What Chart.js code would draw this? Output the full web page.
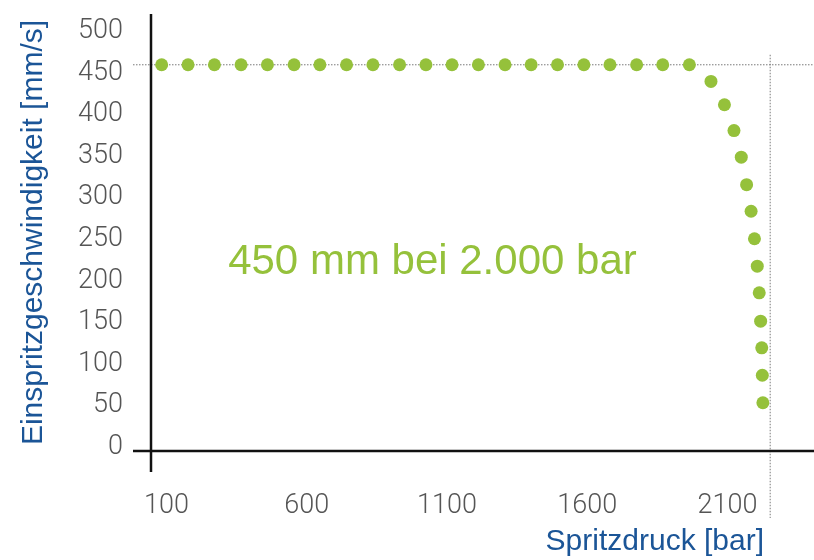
<!DOCTYPE html>
<html>
<head>
<meta charset="utf-8">
<script src="https://cdn.jsdelivr.net/npm/chart.js@4"></script>
<style>
  html, body { margin: 0; padding: 0; background: #fff; }
  #wrap { width: 814px; height: 560px; }
</style>
</head>
<body>
<div id="wrap"><canvas id="chart"></canvas></div>
<script>
// Spritzdruck [bar] / Einspritzgeschwindigkeit [mm/s]
const PRESSURE = [83, 177, 271, 366, 460, 555, 647, 742, 836, 931, 1025, 1118, 1212, 1307,
                  1400, 1494, 1588, 1681, 1776, 1869, 1964,
                  2041, 2089, 2123, 2149, 2168, 2184, 2196, 2206, 2213, 2218, 2222, 2224, 2226];
const SPEED = [450, 450, 450, 450, 450, 450, 450, 450, 450, 450, 450, 450, 450, 450,
               450, 450, 450, 450, 450, 450, 450,
               430, 402, 371, 339, 306, 274, 241, 208, 176, 142, 110, 77, 44];

const X_TICKS = [100, 600, 1100, 1600, 2100];
const Y_TICKS = [0, 50, 100, 150, 200, 250, 300, 350, 400, 450, 500];

// dotted guide lines and the note
const REF_PRESSURE = 2252;
const REF_SPEED = 450;
const NOTE = "450 mm bei 2.000 bar";
const NOTE_AT = { x: 320, y: 213 };

const GREEN = "#95c13b";
const BLUE = "#1b5597";
const GREY = "#555";
const FONT = "'Liberation Sans', Arial, sans-serif";
const TICK_FONT = "Roboto, 'Liberation Sans', sans-serif";

const guides = {
    id: "guides",
    beforeDatasetsDraw(chart) {
        const { ctx, chartArea: a, scales: { x, y } } = chart;
        const yRef = y.getPixelForValue(REF_SPEED);
        const xRef = x.getPixelForValue(REF_PRESSURE);
        ctx.save();
        ctx.strokeStyle = "#7a7a7a";
        ctx.lineWidth = 1;
        ctx.setLineDash([1.5, 1.5]);
        ctx.beginPath();
        ctx.moveTo(a.left - 18, yRef);
        ctx.lineTo(chart.width, yRef);
        ctx.moveTo(xRef, yRef - 10);
        ctx.lineTo(xRef, a.bottom + 67);
        ctx.stroke();
        ctx.restore();

        ctx.save();
        ctx.fillStyle = GREEN;
        ctx.font = "42px " + FONT;
        ctx.textBaseline = "middle";
        ctx.fillText(NOTE, x.getPixelForValue(NOTE_AT.x), y.getPixelForValue(NOTE_AT.y));
        ctx.restore();
    },
    afterDraw(chart) {
        const { ctx, chartArea: a } = chart;
        ctx.save();
        ctx.strokeStyle = "#111";
        ctx.lineWidth = 2.5;
        ctx.beginPath();
        ctx.moveTo(a.left, a.top);
        ctx.lineTo(a.left, a.bottom + 21);
        ctx.moveTo(a.left - 18, a.bottom);
        ctx.lineTo(chart.width, a.bottom);
        ctx.stroke();
        ctx.restore();
    }
};

new Chart(document.getElementById("chart"), {
    type: "scatter",
    data: {
        datasets: [{
            data: PRESSURE.map((p, i) => ({ x: p, y: SPEED[i] })),
            backgroundColor: GREEN,
            borderWidth: 0,
            pointRadius: 6.5,
            pointHoverRadius: 6.5,
            clip: false
        }]
    },
    options: {
        responsive: true,
        maintainAspectRatio: false,
        animation: false,
        layout: { padding: { left: 0, right: 50, top: 14, bottom: 0 } },
        plugins: { legend: { display: false }, tooltip: { enabled: false } },
        scales: {
            x: {
                type: "linear",
                min: 45,
                max: 2230,
                afterBuildTicks: s => { s.ticks = X_TICKS.map(v => ({ value: v })); },
                afterFit: s => { s.height = 109; s.paddingLeft = 0; s.paddingRight = 0; },
                grid: { display: false, drawTicks: false },
                border: { display: false },
                ticks: {
                    color: GREY, padding: 39, maxRotation: 0,
                    callback: v => String(v),
                    font: { family: TICK_FONT, size: 27, weight: "300" }
                },
                title: {
                    display: true,
                    text: "Spritzdruck [bar]",
                    align: "end",
                    color: BLUE,
                    padding: { top: 0, bottom: 0 },
                    font: { family: FONT, size: 30 }
                }
            },
            y: {
                type: "linear",
                min: -14,
                max: 511,
                afterBuildTicks: s => { s.ticks = Y_TICKS.map(v => ({ value: v })); },
                afterFit: s => { s.width = 151; s.paddingTop = 0; s.paddingBottom = 0; },
                grid: { display: false, drawTicks: false },
                border: { display: false },
                ticks: {
                    color: GREY, padding: 28, labelOffset: 8,
                    callback: v => String(v),
                    font: { family: TICK_FONT, size: 27, weight: "300" }
                },
                title: {
                    display: true,
                    text: "Einspritzgeschwindigkeit [mm/s]",
                    color: BLUE,
                    padding: { top: 16, bottom: 0 },
                    font: { family: FONT, size: 30 }
                }
            }
        }
    },
    plugins: [guides]
});
</script>
</body>
</html>
